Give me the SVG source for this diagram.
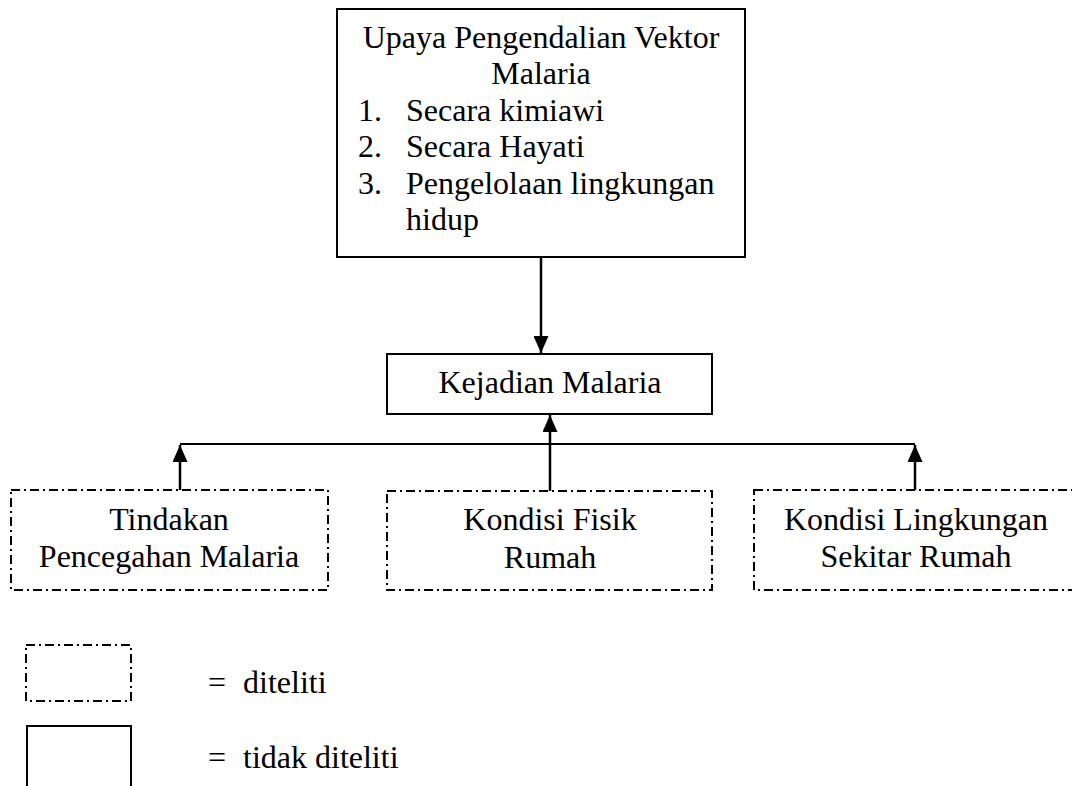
<svg xmlns="http://www.w3.org/2000/svg" width="1072" height="786" viewBox="0 0 1072 786">
<style>
text{font-family:"Liberation Serif","Times New Roman",serif;font-size:32px;fill:#000}
.c{text-anchor:middle}
.solid{fill:#fff;stroke:#000;stroke-width:2}
.dash{fill:#fff;stroke:#000;stroke-width:2;stroke-dasharray:9 4 2 4}
.ln{stroke:#000;stroke-width:2.5;fill:none}
</style>
<defs>
<marker id="ah" viewBox="0 0 12 10" refX="12" refY="5" markerWidth="17" markerHeight="15" markerUnits="userSpaceOnUse" orient="auto" preserveAspectRatio="none">
<path d="M0,0 L12,5 L0,10 z" fill="#000"/>
</marker>
</defs>
<rect width="1072" height="786" fill="#fff"/>
<g id="connectors">
<line class="ln" x1="541" y1="257" x2="541" y2="353" marker-end="url(#ah)"/>
<line x1="180" y1="444" x2="915" y2="444" stroke="#000" stroke-width="2"/>
<line class="ln" x1="180" y1="490" x2="180" y2="445" marker-end="url(#ah)"/>
<line class="ln" x1="550" y1="492" x2="550" y2="415" marker-end="url(#ah)"/>
<line class="ln" x1="915" y1="490" x2="915" y2="445" marker-end="url(#ah)"/>
</g>
<g id="upaya">
<rect class="solid" x="337" y="9" width="408" height="248"/>
<text class="c" x="541" y="48">Upaya Pengendalian Vektor</text>
<text class="c" x="541" y="84">Malaria</text>
<text x="358" y="121">1.</text><text x="406" y="121">Secara kimiawi</text>
<text x="358" y="157">2.</text><text x="406" y="157">Secara Hayati</text>
<text x="358" y="194">3.</text><text x="406" y="194">Pengelolaan lingkungan</text>
<text x="406" y="230">hidup</text>
</g>
<g id="kejadian">
<rect class="solid" x="387" y="354" width="325" height="60"/>
<text class="c" x="550" y="393">Kejadian Malaria</text>
</g>
<g id="tindakan">
<rect class="dash" x="11" y="490" width="317" height="100"/>
<text class="c" x="169" y="530">Tindakan</text>
<text class="c" x="169" y="567">Pencegahan Malaria</text>
</g>
<g id="fisik">
<rect class="dash" x="387" y="491" width="325" height="99"/>
<text class="c" x="550" y="530">Kondisi Fisik</text>
<text class="c" x="550" y="568">Rumah</text>
</g>
<g id="lingkungan">
<rect class="dash" x="754" y="490" width="330" height="100"/>
<text class="c" x="916" y="530">Kondisi Lingkungan</text>
<text class="c" x="916" y="567">Sekitar Rumah</text>
</g>
<g id="legend-diteliti">
<rect class="dash" x="26" y="645" width="105" height="56"/>
<text x="208" y="693">=</text><text x="243" y="693">diteliti</text>
</g>
<g id="legend-tidak">
<rect class="solid" x="27" y="726" width="104" height="70"/>
<text x="208" y="768">=</text><text x="243" y="768">tidak diteliti</text>
</g>
</svg>
